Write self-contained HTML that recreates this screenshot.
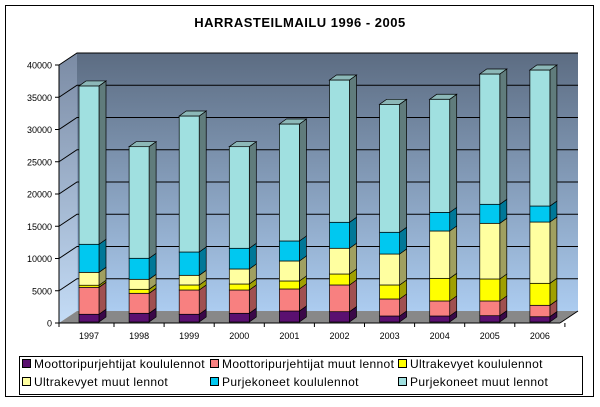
<!DOCTYPE html>
<html><head><meta charset="utf-8"><style>
body{margin:0;background:#fff;width:600px;height:402px;overflow:hidden;font-family:"Liberation Sans",Arial,sans-serif}
</style></head><body>
<svg id="chart" width="600" height="402" xmlns="http://www.w3.org/2000/svg">
<defs>
<linearGradient id="wall" x1="0" y1="0" x2="0" y2="1"><stop offset="0" stop-color="#5c6c82"/><stop offset="1" stop-color="#acccf0"/></linearGradient>
<linearGradient id="side" x1="0" y1="0" x2="0" y2="1"><stop offset="0" stop-color="#7b8ba4"/><stop offset="1" stop-color="#c4dcf6"/></linearGradient>
</defs>
<rect x="5.5" y="5.5" width="588" height="391" fill="#fff" stroke="#000"/>
<text x="300" y="27" text-anchor="middle" font-size="13" font-weight="bold" letter-spacing="0.5">HARRASTEILMAILU 1996 - 2005</text>
<g id="plot"></g>
<rect x="19.5" y="356.5" width="563" height="38" fill="#fff" stroke="#000"/>
<g id="legend"></g>
</svg>
<script>
const categories=["1997","1998","1999","2000","2001","2002","2003","2004","2005","2006"];
const seriesNames=["Moottoripurjehtijat koululennot","Moottoripurjehtijat muut lennot","Ultrakevyet koululennot","Ultrakevyet muut lennot","Purjekoneet koululennot","Purjekoneet muut lennot"];
const moottoriKoulu=[1200,1350,1200,1350,1700,1600,930,930,980,820];
const moottoriMuut=[4180,3100,3760,3610,3420,4140,2640,2330,2280,1770];
const ultraKoulu=[320,620,780,930,1240,1700,2170,3510,3410,3410];
const ultraMuut=[2000,1550,1500,2330,3100,3990,4800,7340,8630,9500];
const purjeKoulu=[4350,3260,3610,3210,3100,4030,3370,2890,2950,2480];
const purjeMuut=[24550,17300,21090,15750,18140,22060,19840,17530,20200,21090];
const yTicks=[0,5000,10000,15000,20000,25000,30000,35000,40000];
const series=[moottoriKoulu,moottoriMuut,ultraKoulu,ultraMuut,purjeKoulu,purjeMuut];
const fronts=["#5a1070","#f88080","#ffff00","#ffffa0","#00c8f0","#a0e0e0"];
const sides=["#3a0848","#a05050","#a0a000","#a0a060","#007898","#607c7c"];
const NS="http://www.w3.org/2000/svg";
const plot=document.getElementById('plot');
const x0=59,y0=323,DX=18,DY=-12,yMax=40000,hgt=258;
const y=v=>y0-v/yMax*hgt;
const xc=i=>89+i*50.1;
function mk(tag,attrs,parent){const e=document.createElementNS(NS,tag);for(const k in attrs)e.setAttribute(k,attrs[k]);(parent||plot).appendChild(e);return e;}
const right=560;
let e;
e=mk('polygon',{points:`${x0+DX},${y(yMax)+DY} ${right+DX},${y(yMax)+DY} ${right+DX},${y0+DY} ${x0+DX},${y0+DY}`,fill:'url(#wall)'});


e=mk('polygon',{points:`${x0},${y(yMax)} ${x0+DX},${y(yMax)+DY} ${x0+DX},${y0+DY} ${x0},${y0}`,fill:'url(#side)'});


e=mk('polygon',{points:`${x0},${y0} ${x0+DX},${y0+DY} ${right+DX},${y0+DY} ${right},${y0}`,fill:'#888'});


yTicks.forEach(t=>{
  const yy=y(t);
  if(t>0){
    e=mk('polyline',{points:`${x0},${yy} ${x0+DX},${yy+DY} ${right+DX},${yy+DY}`,fill:'none',stroke:'#000','stroke-width':1});
    
    
  }
  mk('line',{x1:x0-4,y1:yy,x2:x0,y2:yy,stroke:'#000'});
  e=mk('text',{x:x0-7,y:yy+3.5,'text-anchor':'end','font-size':9});
  e.textContent=t;
  
  
});
mk('line',{x1:x0,y1:y(yMax),x2:x0,y2:y0,stroke:'#000'});
mk('line',{x1:x0,y1:y0,x2:right,y2:y0,stroke:'#000'});
mk('line',{x1:right,y1:y0,x2:right+DX,y2:y0+DY,stroke:'#000'});
const bw=20,bd=7,bu=-5;
categories.forEach((c,i)=>{
  const cx=xc(i),l=cx-10,r=cx+10;
  const g=mk('g',{});
  
  
  let cum=0;
  series.forEach((s,k)=>{
    const b=y(cum)-1,t=y(cum+s[i])-1;cum+=s[i];
    e=mk('polygon',{points:`${r},${b} ${r+bd},${b+bu} ${r+bd},${t+bu} ${r},${t}`,fill:sides[k],stroke:'#000','stroke-width':0.7},g);
    e=mk('rect',{x:l,y:t,width:bw,height:b-t,fill:fronts[k],stroke:'#000','stroke-width':0.7},g);
    
    
    if(k===series.length-1){
      mk('polygon',{points:`${l},${t} ${l+bd},${t+bu} ${r+bd},${t+bu} ${r},${t}`,fill:'#8cb8b8',stroke:'#000','stroke-width':0.7},g);
    }
  });
  mk('line',{x1:cx+25,y1:y0,x2:cx+25,y2:y0+4,stroke:'#000'});
  e=mk('text',{x:cx,y:y0+16,'text-anchor':'middle','font-size':9});
  e.textContent=c;
  
  
});
mk('line',{x1:x0,y1:y0,x2:x0,y2:y0+4,stroke:'#000'});
const lg=document.getElementById('legend');
const lx=[22,210,398],ly=[368,386];
seriesNames.forEach((nm,k)=>{
  const col=k%3,row=Math.floor(k/3);
  mk('rect',{x:lx[col]+0.5,y:ly[row]-8.5,width:8,height:8,fill:fronts[k],stroke:'#000'},lg);
  e=mk('text',{x:lx[col]+12,y:ly[row],'font-size':12,'letter-spacing':0.35},lg);
  e.textContent=nm;
  
  
});
</script>
</body></html>
